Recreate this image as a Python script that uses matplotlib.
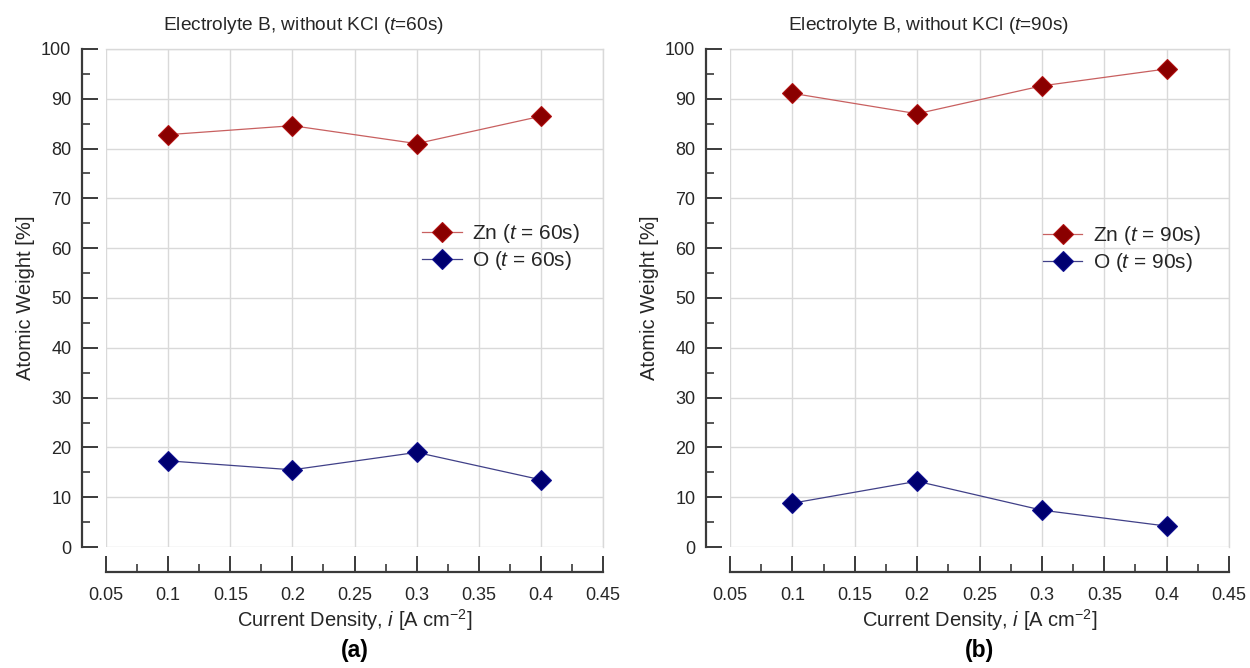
import matplotlib
matplotlib.use("Agg")
import matplotlib.pyplot as plt
from matplotlib.ticker import MultipleLocator, FuncFormatter
from matplotlib.lines import Line2D

plt.rcParams['font.family'] = ['Liberation Sans', 'DejaVu Sans']
plt.rcParams['mathtext.fontset'] = 'custom'
plt.rcParams['mathtext.rm'] = 'Liberation Sans'
plt.rcParams['mathtext.it'] = 'Liberation Sans:italic'

# Current density [A cm^-2]
current_density = [0.1, 0.2, 0.3, 0.4]

# Atomic weight [%], t = 60 s
zn_60 = [82.8, 84.6, 81.0, 86.5]
o_60 = [17.3, 15.5, 19.0, 13.5]

# Atomic weight [%], t = 90 s
zn_90 = [91.1, 87.0, 92.6, 96.0]
o_90 = [8.8, 13.2, 7.4, 4.2]

times = ["60", "90"]
panel_tags = ["(a)", "(b)"]

ZN_FACE, ZN_EDGE, ZN_LINE = "#8a0000", "#b01010", "#c86060"
O_FACE, O_EDGE, O_LINE = "#000070", "#101090", "#404088"
TXT = "#262626"
AX = "#3a3a3a"
FS = 13

fig = plt.figure(figsize=(12.5, 6.68), dpi=100)
ax_left = fig.add_axes([106 / 1250, 121 / 668, 497 / 1250, 498 / 668])
ax_right = fig.add_axes([730 / 1250, 121 / 668, 499 / 1250, 498 / 668])

series = [(zn_60, o_60), (zn_90, o_90)]
legend_anchor = [(0.636, 0.652), (0.627, 0.648)]
tag_x = [355, 980]

for ax, (zn, o), t, tag, anchor, tx in zip(
        [ax_left, ax_right], series, times, panel_tags, legend_anchor, tag_x):
    ax.plot(current_density, zn, color=ZN_LINE, lw=0.9, marker="D", ms=10,
            mfc=ZN_FACE, mec=ZN_EDGE, mew=0.8, zorder=3)
    ax.plot(current_density, o, color=O_LINE, lw=0.9, marker="D", ms=10,
            mfc=O_FACE, mec=O_EDGE, mew=0.8, zorder=3)

    ax.set_xlim(0.05, 0.45)
    ax.set_ylim(0, 100)
    ax.xaxis.set_major_locator(MultipleLocator(0.05))
    ax.xaxis.set_minor_locator(MultipleLocator(0.025))
    ax.yaxis.set_major_locator(MultipleLocator(10))
    ax.yaxis.set_minor_locator(MultipleLocator(5))
    ax.xaxis.set_major_formatter(FuncFormatter(lambda v, p: f"{v:g}"))

    ax.grid(True, which="major", color="#d9d9d9", lw=1.0, zorder=0)
    for side in ("top", "right"):
        ax.spines[side].set_color("#d9d9d9")
        ax.spines[side].set_linewidth(1.0)
    ax.spines["left"].set_position(("outward", 17))
    ax.spines["bottom"].set_position(("outward", 18))
    for side in ("left", "bottom"):
        ax.spines[side].set_color(AX)
        ax.spines[side].set_linewidth(1.6)

    ax.tick_params(which="major", direction="in", length=11.5, width=1.4,
                   color=AX, labelsize=FS, labelcolor=TXT)
    ax.tick_params(which="minor", direction="in", length=5.8, width=1.2,
                   color=AX)
    ax.tick_params(axis="x", which="major", pad=11)
    ax.tick_params(axis="y", which="major", pad=8)
    ax.tick_params(top=False, right=False, which="both")

    ax.set_xlabel("Current Density, $i$ [A cm$^{-2}$]", fontsize=14.5,
                  color=TXT, labelpad=2)
    ax.set_ylabel("Atomic Weight [%]", fontsize=14.5, color=TXT, labelpad=4)
    ax.set_title(f"Electrolyte B, without KCl ($t$={t}s)", fontsize=13.8,
                 color=TXT, x=0.397, pad=14)

    handles = [
        Line2D([], [], color=ZN_LINE, lw=0.9, marker="D", ms=10,
               mfc=ZN_FACE, mec=ZN_EDGE, mew=0.8),
        Line2D([], [], color=O_LINE, lw=0.9, marker="D", ms=10,
               mfc=O_FACE, mec=O_EDGE, mew=0.8),
    ]
    labels = [f"Zn ($t$ = {t}s)", f"O ($t$ = {t}s)"]
    ax.legend(handles, labels, loc="upper left", bbox_to_anchor=anchor,
              frameon=False, borderpad=0, borderaxespad=0, handlelength=1.9,
              handletextpad=0.5, labelspacing=0.2, fontsize=15,
              labelcolor=TXT)

    fig.text(tx / 1250, 1 - 650 / 668, tag, ha="center", va="center",
             fontsize=16.5, fontweight="bold", color="black")

fig.savefig("out.png", dpi=100)
